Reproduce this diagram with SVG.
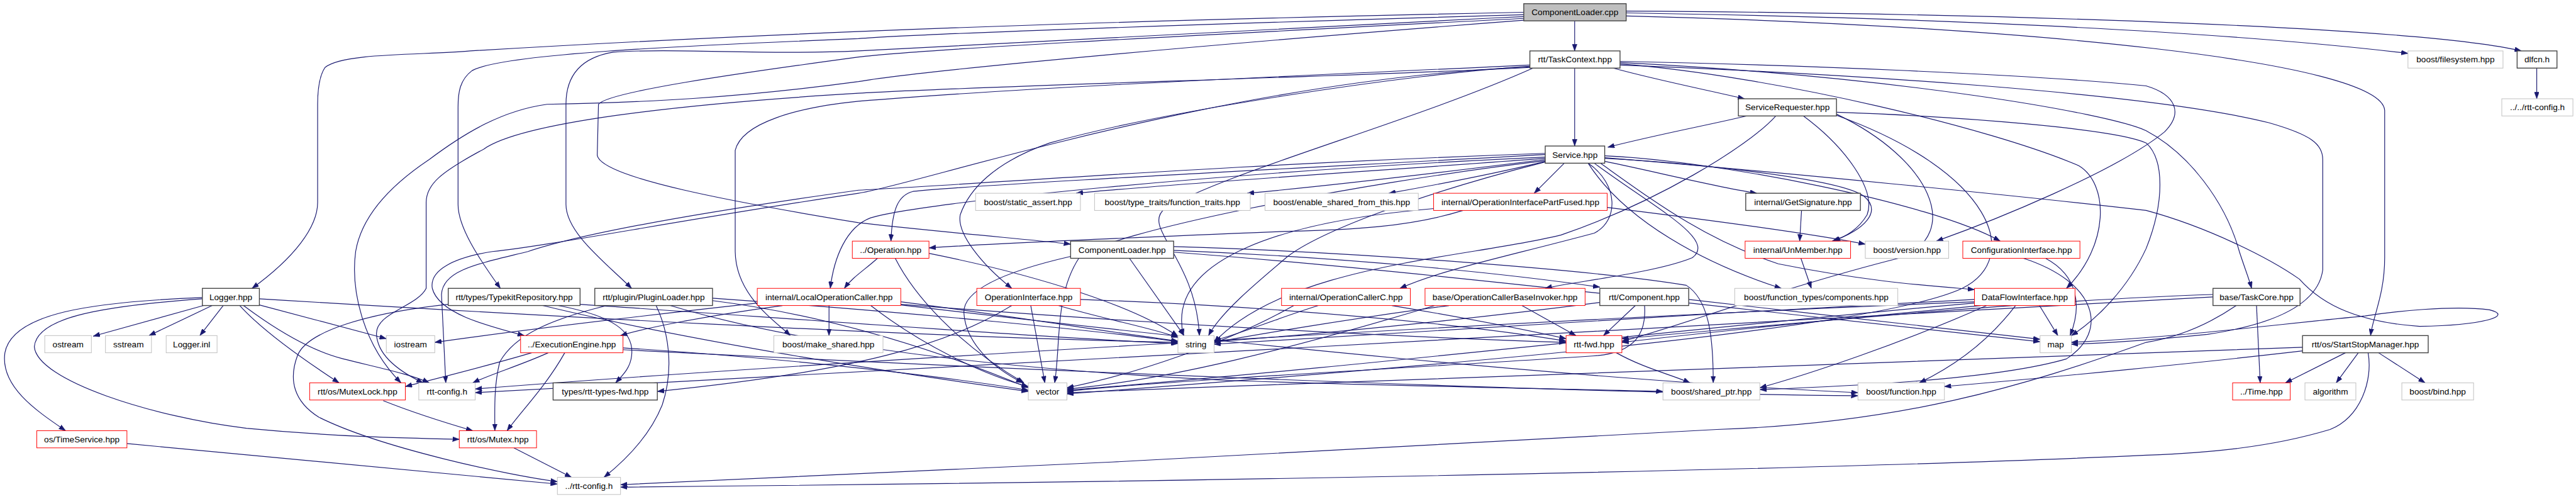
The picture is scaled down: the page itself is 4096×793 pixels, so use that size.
<svg xmlns="http://www.w3.org/2000/svg" width="4096" height="793" viewBox="0 0 4096 793">
<defs>
<style>
.node rect{fill:#fff;stroke-width:1}
.blk rect{stroke:#404040;stroke-width:1.4}
.gry rect{stroke:#bfbfbf}
.red rect{stroke:#ff0000}
.root rect{fill:#bfbfbf;stroke:#404040;stroke-width:1.4}
.node text{font-family:"Liberation Sans",Arial,sans-serif;font-size:14px;fill:#000;text-anchor:middle}
#edges path{fill:none;stroke:#191970;stroke-width:1.2;marker-end:url(#ah)}
</style>
<marker id="ah" viewBox="0 0 11 8" refX="11" refY="4" markerWidth="11" markerHeight="8" orient="auto" markerUnits="userSpaceOnUse"><path d="M0,0 L11,4 L0,8 z" fill="#191970" stroke="#191970" stroke-width="0.5"/></marker>
</defs>
<rect width="4096" height="793" fill="#fff"/>
<g transform="scale(0.975)">
<g id="edges">
<!-- root -->
<path d="M2568,34 L2568,83"/>
<path d="M2652,21 C3100,28 3600,48 3927,87"/>
<path d="M2652,18 C3300,22 3950,45 4112,83"/>
<path d="M2652,26 C3300,42 3885,100 3889,180 L3889,420 C3889,480 3870,515 3866,547"/>
<path d="M2485,20 C2000,30 1400,45 767,83 C700,90 560,85 530,110 C520,125 518,150 518,170 L518,330 C518,370 480,420 411,470"/>
<path d="M2485,24 C2000,38 1500,55 1400,63 C1100,75 820,88 770,115 C750,130 747,150 747,175 L747,333 C747,370 780,420 816,470"/>
<path d="M2485,27 C2000,50 1500,75 1400,83 C1250,90 1100,78 1000,85 C940,95 923,130 923,170 L923,333 C923,380 990,430 1030,470"/>
<path d="M2485,30 C2000,55 1500,80 1400,93 C1200,120 990,150 976,170 L974,253 C980,290 1200,330 1400,363 C1550,380 1700,392 1746,398"/>
<path d="M2485,33 C2000,70 1500,115 1400,133 C1200,160 1050,167 892,170 C820,180 760,215 700,260 C640,300 590,350 580,410 C572,470 590,560 654,624"/>
<path d="M4137,111 L4137,161"/>
<!-- TaskContext -->
<path d="M2568,111 L2568,238"/>
<path d="M2631,111 C2700,130 2790,148 2845,161"/>
<path d="M2642,100 C2900,105 3300,120 3500,140 C3550,155 3560,185 3530,215 C3450,280 3250,360 3158,393"/>
<path d="M2642,104 C2900,125 3250,210 3390,270 C3440,300 3440,400 3370,470"/>
<path d="M2642,102 C3100,125 3440,185 3500,213 C3570,250 3630,330 3652,410 C3660,435 3668,455 3672,470"/>
<path d="M2642,106 C3000,120 3500,150 3700,200 C3770,220 3788,235 3788,260 L3788,440 C3780,500 3700,530 3600,545 C3500,555 3420,560 3378,561"/>
<path d="M2495,108 C2300,120 1900,180 1712,233 C1620,265 1580,310 1566,350 C1560,380 1600,430 1650,470"/>
<path d="M2495,106 C2200,120 1700,140 1400,165 C1300,175 1210,200 1199,245 L1199,410 C1200,480 1260,520 1289,547"/>
<path d="M2495,110 C2200,125 1600,140 1400,152 C1100,170 850,200 789,243 C720,280 695,300 695,330 L695,470 C680,500 612,510 614,545 C616,580 650,605 690,624"/>
<path d="M2495,109 C2000,130 1500,300 1400,315 C1100,360 900,400 803,410 C740,420 700,440 705,470 C715,510 790,530 855,547"/>
<path d="M2500,111 C2300,200 2000,280 1900,340 C1860,370 1950,420 1956,547"/>
<!-- ServiceRequester -->
<path d="M2849,189 C2780,205 2700,220 2622,240"/>
<path d="M2896,189 C2850,240 2700,330 2546,383 C2400,420 2100,430 1980,558"/>
<path d="M2941,189 C3010,240 3060,310 3045,350 C3030,375 3010,385 2990,393"/>
<path d="M2995,183 C3200,190 3450,210 3500,233 C3530,260 3530,330 3500,405 C3470,470 3420,520 3378,547"/>
<path d="M2995,186 C3150,260 3200,380 3100,420 C2900,470 2700,545 2645,556"/>
<path d="M2995,188 C3250,280 3300,420 3200,470 C3050,540 2300,600 1740,642"/>
<!-- Service -->
<path d="M2520,258 C2300,275 1900,300 1755,315"/>
<path d="M2520,260 C2400,275 2200,300 2034,315"/>
<path d="M2521,263 C2450,280 2350,300 2265,315"/>
<path d="M2551,266 L2502,315"/>
<path d="M2617,263 C2700,280 2800,305 2865,315"/>
<path d="M2520,252 C2200,270 1600,300 1489,312 C1465,318 1455,340 1453,393"/>
<path d="M2520,256 C2000,280 1500,330 1420,355 C1380,370 1360,420 1354,470"/>
<path d="M2590,266 C2640,300 2640,360 2600,380 C2450,420 2350,440 2283,470"/>
<path d="M2600,266 C2700,340 2800,390 2760,420 C2700,445 2560,460 2520,470"/>
<path d="M2617,258 C2750,265 3000,290 3040,320 C3070,345 3040,375 2988,393"/>
<path d="M2617,254 C2800,262 3150,330 3262,393"/>
<path d="M2610,266 C2700,330 2780,390 2900,430 C3050,460 3150,466 3220,472"/>
<path d="M2590,266 C2650,360 2780,430 2905,470"/>
<path d="M2520,264 C2300,320 2150,380 2100,418 C2050,460 1990,510 1971,547"/>
<path d="M2520,262 C2200,300 1800,380 1760,420 C1720,480 1730,560 1720,624"/>
<path d="M2617,257 C2900,280 3300,320 3500,343 C3600,370 3700,420 3750,455 C3790,500 3850,525 3946,532 C4050,530 4100,515 4060,505 C4000,497 3900,508 3857,515 C3700,530 3550,550 3378,558"/>
<path d="M2520,250 C2000,268 1600,300 1400,310 C1150,345 950,380 861,410 C780,430 722,440 720,480 L727,624"/>
<!-- OIPF -->
<path d="M2386,343 C2300,370 2200,375 2100,377 C1900,385 1650,395 1515,404"/>
<path d="M2621,338 C2800,360 2950,380 3042,398"/>
<path d="M2338,340 C2100,360 1900,420 1930,547"/>
<!-- GetSignature / UnMember / ConfigurationInterface -->
<path d="M2938,343 L2935,393"/>
<path d="M2937,421 L2954,470"/>
<path d="M3336,421 C3390,450 3395,500 3376,547"/>
<path d="M3300,421 C3420,460 3440,540 3370,585 C3250,620 3000,630 2870,635"/>
<!-- ComponentLoader.hpp -->
<path d="M1914,408 C2200,420 2450,445 2609,468"/>
<path d="M1914,402 C2200,410 2600,440 2750,465 C2790,490 2794,560 2794,624"/>
<path d="M1842,421 L1931,547"/>
<path d="M1746,418 C1650,440 1570,470 1572,510 C1575,560 1620,600 1668,624"/>
<path d="M1914,411 C2300,440 2800,500 3327,557"/>
<!-- Component -->
<path d="M2667,498 L2615,547"/>
<path d="M2682,498 C2685,540 2670,575 2600,580 C2300,600 1900,620 1740,638"/>
<path d="M2609,493 C2400,520 2150,545 1980,557"/>
<path d="M2754,488 C2950,510 3200,540 3327,553"/>
<!-- DataFlowInterface -->
<path d="M3326,498 L3356,547"/>
<path d="M3287,498 C3240,560 3180,600 3130,624"/>
<path d="M3220,488 C2800,510 2300,540 1980,561"/>
<path d="M3220,494 C2800,530 2200,600 1740,636"/>
<path d="M3230,498 C3000,520 2800,540 2645,558"/>
<path d="M3240,498 C3100,560 2950,610 2870,632"/>
<path d="M3220,492 C2500,520 1200,600 775,634"/>
<!-- TaskCore -->
<path d="M3680,498 L3686,624"/>
<path d="M3609,480 C3300,490 2900,530 2645,552"/>
<path d="M3609,484 C3000,520 1500,600 775,640"/>
<path d="M3647,498 C3600,530 3550,550 3500,558 C3300,630 3100,690 2800,700 C2500,720 1500,770 1012,790"/>
<!-- StartStopManager -->
<path d="M3825,575 L3727,624"/>
<path d="M3846,575 L3810,624"/>
<path d="M3879,575 L3955,624"/>
<path d="M3862,575 C3870,620 3850,680 3800,700 C3700,730 3600,738 3500,742 C3000,765 2000,785 1012,794"/>
<path d="M3755,572 C3600,590 3350,615 3171,630"/>
<path d="M3755,566 C3300,580 2500,610 1740,640"/>
<!-- Logger -->
<path d="M332,498 L152,548"/>
<path d="M346,498 L243,547"/>
<path d="M364,498 L326,547"/>
<path d="M423,497 L630,552"/>
<path d="M391,498 C420,530 470,570 553,624"/>
<path d="M397,498 C440,530 500,570 560,585 C620,600 670,610 700,624"/>
<path d="M330,485 C150,492 20,510 8,575 C0,630 60,670 107,702"/>
<path d="M330,487 C150,500 60,520 56,565 C60,620 250,680 402,698 C550,712 650,714 749,716"/>
<path d="M423,487 C800,510 1500,550 1921,558"/>
<!-- TimeService / MutexLock / Mutex -->
<path d="M207,723 C500,750 750,775 909,789"/>
<path d="M625,653 C680,675 730,690 771,702"/>
<path d="M838,730 L932,778"/>
<!-- ExecutionEngine -->
<path d="M894,575 C850,595 800,610 771,624"/>
<path d="M921,575 C890,630 850,670 827,702"/>
<path d="M867,575 C800,595 720,615 661,630"/>
<path d="M1016,567 C1300,585 1550,615 1677,636"/>
<path d="M1016,570 C1600,600 2500,640 3030,645"/>
<!-- TypekitRepository -->
<path d="M910,498 C1000,515 1035,540 1030,580 C1028,600 1015,612 1004,624"/>
<path d="M731,496 C600,510 500,540 485,580 C470,620 480,655 520,680 C620,730 830,775 909,785"/>
<path d="M946,496 C1300,520 1700,550 1921,560"/>
<path d="M885,498 C1100,550 1400,600 1677,638"/>
<!-- PluginLoader -->
<path d="M990,498 C900,520 840,545 815,590 C805,630 807,670 807,702"/>
<path d="M1070,498 C1090,540 1100,600 1080,660 C1060,710 1020,750 985,778"/>
<path d="M1093,498 C1300,560 1600,600 2000,620 C2300,630 2600,635 2712,638"/>
<path d="M1162,490 C1400,520 1600,600 1677,632"/>
<path d="M1162,486 C1500,510 1800,540 1921,557"/>
<!-- LocalOperationCaller -->
<path d="M1352,498 L1352,547"/>
<path d="M1276,498 C1150,515 1050,535 1012,547"/>
<path d="M1235,494 C1000,520 800,545 709,558"/>
<path d="M1469,492 C1650,515 1800,540 1921,556"/>
<path d="M1420,498 C1500,560 1600,610 1677,630"/>
<path d="M1469,496 C1900,530 2300,550 2554,558"/>
<path d="M1469,497 C2000,560 2600,620 3030,640"/>
<!-- OperationInterface -->
<path d="M1681,498 L1704,624"/>
<path d="M1726,498 C1800,520 1880,535 1921,550"/>
<path d="M1762,488 C2100,500 2400,530 2554,556"/>
<path d="M1650,498 C1550,560 1400,605 1072,638"/>
<!-- ../Operation -->
<path d="M1431,421 C1410,440 1390,452 1377,470"/>
<path d="M1460,421 C1490,480 1560,560 1670,624"/>
<path d="M1515,413 C1700,450 1850,500 1921,548"/>
<!-- OperationCallerC -->
<path d="M2270,498 C2400,520 2500,540 2554,552"/>
<path d="M2150,498 C2080,520 2020,545 1980,555"/>
<path d="M2110,498 C2000,560 1850,610 1740,632"/>
<!-- OperationCallerBaseInvoker -->
<path d="M2482,498 L2570,547"/>
<path d="M2363,498 C2200,520 2050,545 1980,558"/>
<path d="M2340,498 C2100,570 1900,620 1740,634"/>
<!-- rtt-fwd -->
<path d="M2636,575 C2680,600 2730,612 2756,624"/>
</g>
<g id="n0" class="node root"><rect x="2485" y="6" width="167" height="28"/><text x="2568.5" y="25">ComponentLoader.cpp</text></g>
<g id="n1" class="node blk"><rect x="2495" y="83" width="147" height="28"/><text x="2568.5" y="102">rtt/TaskContext.hpp</text></g>
<g id="n2" class="node gry"><rect x="3927" y="83" width="155" height="28"/><text x="4004.5" y="102">boost/filesystem.hpp</text></g>
<g id="n3" class="node blk"><rect x="4105" y="83" width="65" height="28"/><text x="4137.5" y="102">dlfcn.h</text></g>
<g id="n4" class="node blk"><rect x="2835" y="161" width="160" height="28"/><text x="2915" y="180">ServiceRequester.hpp</text></g>
<g id="n5" class="node gry"><rect x="4080" y="161" width="116" height="28"/><text x="4138" y="180">../../rtt-config.h</text></g>
<g id="n6" class="node blk"><rect x="2520" y="238" width="97" height="28"/><text x="2568.5" y="257">Service.hpp</text></g>
<g id="n7" class="node gry"><rect x="1591" y="315" width="171" height="28"/><text x="1676.5" y="334">boost/static_assert.hpp</text></g>
<g id="n8" class="node gry"><rect x="1785" y="315" width="254" height="28"/><text x="1912" y="334">boost/type_traits/function_traits.hpp</text></g>
<g id="n9" class="node gry"><rect x="2063" y="315" width="250" height="28"/><text x="2188" y="334">boost/enable_shared_from_this.hpp</text></g>
<g id="n10" class="node red"><rect x="2338" y="315" width="283" height="28"/><text x="2479.5" y="334">internal/OperationInterfacePartFused.hpp</text></g>
<g id="n11" class="node blk"><rect x="2847" y="315" width="187" height="28"/><text x="2940.5" y="334">internal/GetSignature.hpp</text></g>
<g id="n12" class="node red"><rect x="1390" y="393" width="125" height="28"/><text x="1452.5" y="412">../Operation.hpp</text></g>
<g id="n13" class="node blk"><rect x="1746" y="393" width="168" height="28"/><text x="1830" y="412">ComponentLoader.hpp</text></g>
<g id="n14" class="node red"><rect x="2846" y="393" width="172" height="28"/><text x="2932" y="412">internal/UnMember.hpp</text></g>
<g id="n15" class="node gry"><rect x="3042" y="393" width="136" height="28"/><text x="3110" y="412">boost/version.hpp</text></g>
<g id="n16" class="node red"><rect x="3201" y="393" width="191" height="28"/><text x="3296.5" y="412">ConfigurationInterface.hpp</text></g>
<g id="n17" class="node blk"><rect x="330" y="470" width="93" height="28"/><text x="376.5" y="489">Logger.hpp</text></g>
<g id="n18" class="node blk"><rect x="731" y="470" width="215" height="28"/><text x="838.5" y="489">rtt/types/TypekitRepository.hpp</text></g>
<g id="n19" class="node blk"><rect x="970" y="470" width="192" height="28"/><text x="1066" y="489">rtt/plugin/PluginLoader.hpp</text></g>
<g id="n20" class="node red"><rect x="1235" y="470" width="234" height="28"/><text x="1352" y="489">internal/LocalOperationCaller.hpp</text></g>
<g id="n21" class="node red"><rect x="1593" y="470" width="169" height="28"/><text x="1677.5" y="489">OperationInterface.hpp</text></g>
<g id="n22" class="node red"><rect x="2090" y="470" width="210" height="28"/><text x="2195" y="489">internal/OperationCallerC.hpp</text></g>
<g id="n23" class="node red"><rect x="2324" y="470" width="261" height="28"/><text x="2454.5" y="489">base/OperationCallerBaseInvoker.hpp</text></g>
<g id="n24" class="node blk"><rect x="2609" y="470" width="145" height="28"/><text x="2681.5" y="489">rtt/Component.hpp</text></g>
<g id="n25" class="node gry"><rect x="2829" y="470" width="266" height="28"/><text x="2962" y="489">boost/function_types/components.hpp</text></g>
<g id="n26" class="node red"><rect x="3220" y="470" width="164" height="28"/><text x="3302" y="489">DataFlowInterface.hpp</text></g>
<g id="n27" class="node blk"><rect x="3609" y="470" width="142" height="28"/><text x="3680" y="489">base/TaskCore.hpp</text></g>
<g id="n28" class="node gry"><rect x="73" y="547" width="76" height="28"/><text x="111" y="566">ostream</text></g>
<g id="n29" class="node gry"><rect x="172" y="547" width="75" height="28"/><text x="209.5" y="566">sstream</text></g>
<g id="n30" class="node gry"><rect x="271" y="547" width="83" height="28"/><text x="312.5" y="566">Logger.inl</text></g>
<g id="n31" class="node gry"><rect x="630" y="547" width="79" height="28"/><text x="669.5" y="566">iostream</text></g>
<g id="n32" class="node red"><rect x="849" y="547" width="167" height="28"/><text x="932.5" y="566">../ExecutionEngine.hpp</text></g>
<g id="n33" class="node gry"><rect x="1262" y="547" width="178" height="28"/><text x="1351" y="566">boost/make_shared.hpp</text></g>
<g id="n34" class="node gry"><rect x="1921" y="547" width="59" height="28"/><text x="1950.5" y="566">string</text></g>
<g id="n35" class="node red"><rect x="2554" y="547" width="91" height="28"/><text x="2599.5" y="566">rtt-fwd.hpp</text></g>
<g id="n36" class="node gry"><rect x="3327" y="547" width="51" height="28"/><text x="3352.5" y="566">map</text></g>
<g id="n37" class="node blk"><rect x="3755" y="547" width="205" height="28"/><text x="3857.5" y="566">rtt/os/StartStopManager.hpp</text></g>
<g id="n38" class="node red"><rect x="505" y="624" width="156" height="28"/><text x="583" y="643">rtt/os/MutexLock.hpp</text></g>
<g id="n39" class="node gry"><rect x="683" y="624" width="92" height="28"/><text x="729" y="643">rtt-config.h</text></g>
<g id="n40" class="node blk"><rect x="902" y="624" width="170" height="28"/><text x="987" y="643">types/rtt-types-fwd.hpp</text></g>
<g id="n41" class="node gry"><rect x="1677" y="624" width="63" height="28"/><text x="1708.5" y="643">vector</text></g>
<g id="n42" class="node gry"><rect x="2712" y="624" width="158" height="28"/><text x="2791" y="643">boost/shared_ptr.hpp</text></g>
<g id="n43" class="node gry"><rect x="3030" y="624" width="141" height="28"/><text x="3100.5" y="643">boost/function.hpp</text></g>
<g id="n44" class="node red"><rect x="3641" y="624" width="94" height="28"/><text x="3688" y="643">../Time.hpp</text></g>
<g id="n45" class="node gry"><rect x="3759" y="624" width="83" height="28"/><text x="3800.5" y="643">algorithm</text></g>
<g id="n46" class="node gry"><rect x="3917" y="624" width="117" height="28"/><text x="3975.5" y="643">boost/bind.hpp</text></g>
<g id="n47" class="node red"><rect x="60" y="702" width="147" height="28"/><text x="133.5" y="721">os/TimeService.hpp</text></g>
<g id="n48" class="node red"><rect x="749" y="702" width="126" height="28"/><text x="812" y="721">rtt/os/Mutex.hpp</text></g>
<g id="n49" class="node gry"><rect x="909" y="778" width="103" height="28"/><text x="960.5" y="797">../rtt-config.h</text></g>
</g>
</svg>
